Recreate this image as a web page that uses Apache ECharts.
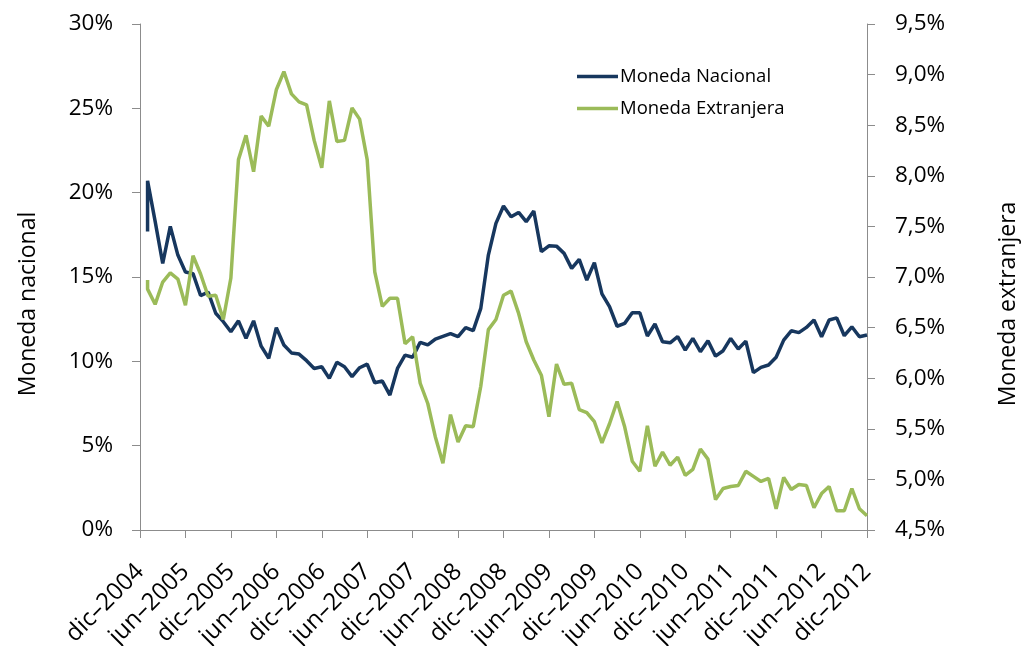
<!DOCTYPE html>
<html style="height: 100%">
<head>
    <meta charset="utf-8">
    <script src="https://cdn.jsdelivr.net/npm/echarts@6/dist/echarts.min.js"></script>
</head>
<body style="height: 100%;margin: 0;background: #fff">
<div id="chart" style="width: 1021px;height: 646px;"></div>
<script type="text/javascript">
// etiquetas del eje x, una cada 6 meses (dic-2004 = mes 0)
var xLabels = ['dic–2004', 'jun–2005', 'dic–2005', 'jun–2006', 'dic–2006', 'jun–2007', 'dic–2007',
    'jun–2008', 'dic–2008', 'jun–2009', 'dic–2009', 'jun–2010', 'dic–2010', 'jun–2011', 'dic–2011',
    'jun–2012', 'dic–2012'];

// mes de cada dato (el primero aparece dos veces)
var meses = [1, 1, 2, 3, 4, 5, 6, 7, 8, 9, 10, 11, 12, 13, 14, 15, 16, 17, 18, 19, 20,
    21, 22, 23, 24, 25, 26, 27, 28, 29, 30, 31, 32, 33, 34, 35, 36, 37, 38, 39, 40,
    41, 42, 43, 44, 45, 46, 47, 48, 49, 50, 51, 52, 53, 54, 55, 56, 57, 58, 59, 60,
    61, 62, 63, 64, 65, 66, 67, 68, 69, 70, 71, 72, 73, 74, 75, 76, 77, 78, 79, 80,
    81, 82, 83, 84, 85, 86, 87, 88, 89, 90, 91, 92, 93, 94, 95, 96];

// Moneda Nacional (%), eje izquierdo
var nacional = [17.7, 20.7, 18.3, 15.8, 18.0, 16.3, 15.3, 15.2, 13.9, 14.1, 12.85, 12.35, 11.75, 12.4, 11.36, 12.4,
    10.9, 10.18, 12.0, 10.97, 10.5, 10.43, 10.04, 9.58, 9.68, 8.99, 9.94, 9.68, 9.09, 9.62, 9.83,
    8.73, 8.83, 8.0, 9.58, 10.37, 10.24, 11.13, 10.97, 11.32, 11.48, 11.64, 11.46, 12.0, 11.82, 13.14,
    16.3, 18.18, 19.21, 18.57, 18.83, 18.28, 18.91, 16.5, 16.85, 16.83, 16.4, 15.51, 16.05, 14.82, 15.85,
    14.0, 13.24, 12.08, 12.25, 12.88, 12.88, 11.5, 12.21, 11.16, 11.1, 11.46, 10.67, 11.36, 10.57, 11.22,
    10.31, 10.63, 11.36, 10.73, 11.2, 9.33, 9.64, 9.78, 10.24, 11.26, 11.81, 11.7, 12.01, 12.45, 11.46,
    12.45, 12.58, 11.52, 12.05, 11.46, 11.56];

// Moneda Extranjera (%), eje derecho
var extranjera = [6.97, 6.88, 6.73, 6.95, 7.04, 6.98, 6.72, 7.21, 7.03, 6.81, 6.82, 6.58, 6.99, 8.16, 8.40, 8.04,
    8.59, 8.49, 8.85, 9.03, 8.81, 8.73, 8.70, 8.35, 8.08, 8.74, 8.34, 8.35, 8.67, 8.56, 8.16,
    7.05, 6.71, 6.79, 6.79, 6.34, 6.41, 5.95, 5.75, 5.42, 5.16, 5.64, 5.37, 5.53, 5.52, 5.92,
    6.48, 6.58, 6.82, 6.86, 6.64, 6.36, 6.18, 6.03, 5.62, 6.14, 5.94, 5.95, 5.69, 5.66, 5.57,
    5.36, 5.55, 5.77, 5.52, 5.18, 5.08, 5.53, 5.13, 5.27, 5.14, 5.22, 5.04, 5.10, 5.30, 5.20,
    4.80, 4.91, 4.93, 4.94, 5.08, 5.03, 4.98, 5.01, 4.71, 5.02, 4.90, 4.95, 4.94, 4.72, 4.86,
    4.93, 4.69, 4.69, 4.91, 4.71, 4.64];

var fuente = 'Open Sans';
var ejeColor = '#8c8c8c';

function pares(xs, ys) {
    return ys.map(function (v, i) { return [xs[i], v]; });
}

var myChart = echarts.init(document.getElementById('chart'));
var option = {
    animation: false,
    textStyle: {fontFamily: fuente, color: '#000'},
    grid: {left: 140, right: 154, top: 24, bottom: 116, outerBoundsMode: 'none', containLabel: false},
    legend: {
        orient: 'vertical',
        left: 577,
        top: 67,
        padding: 0,
        icon: 'rect',
        itemWidth: 41,
        itemHeight: 3.5,
        itemGap: 13,
        textStyle: {fontFamily: fuente, fontSize: 18.5, color: '#000', padding: [0, 0, 0, -3]},
        data: ['Moneda Nacional', 'Moneda Extranjera']
    },
    xAxis: {
        type: 'value',
        min: 0,
        max: 96,
        interval: 6,
        splitLine: {show: false},
        axisLine: {show: true, onZero: false, lineStyle: {color: ejeColor, width: 1}},
        axisTick: {show: true, length: 8, lineStyle: {color: ejeColor}},
        axisLabel: {
            rotate: 45,
            fontSize: 24,
            color: '#000',
            margin: 38,
            formatter: function (v) { return xLabels[v / 6]; }
        }
    },
    yAxis: [{
        type: 'value',
        name: 'Moneda nacional',
        nameLocation: 'middle',
        nameGap: 100,
        nameTextStyle: {fontSize: 23, color: '#000', padding: [0, 54, 0, 0]},
        min: 0,
        max: 30,
        interval: 5,
        splitLine: {show: false},
        axisLine: {show: true, lineStyle: {color: ejeColor}},
        axisTick: {show: true, length: 8, lineStyle: {color: ejeColor}},
        axisLabel: {fontSize: 22.5, color: '#000', margin: 27, formatter: function (v) { return v + '%'; }}
    }, {
        type: 'value',
        name: 'Moneda extranjera',
        nameLocation: 'middle',
        nameGap: 130,
        nameRotate: 90,
        nameTextStyle: {fontSize: 23, color: '#000', padding: [0, 54, 0, 0]},
        position: 'right',
        min: 4.5,
        max: 9.5,
        interval: 0.5,
        splitLine: {show: false},
        axisLine: {show: true, lineStyle: {color: ejeColor}},
        axisTick: {show: true, length: 8, lineStyle: {color: ejeColor}},
        axisLabel: {
            fontSize: 22.5, color: '#000', margin: 28,
            formatter: function (v) { return v.toFixed(1).replace('.', ',') + '%'; }
        }
    }],
    series: [{
        name: 'Moneda Nacional',
        type: 'line',
        yAxisIndex: 0,
        symbol: 'none',
        color: '#17375E',
        lineStyle: {width: 3.5, color: '#17375E'},
        data: pares(meses, nacional)
    }, {
        name: 'Moneda Extranjera',
        type: 'line',
        yAxisIndex: 1,
        symbol: 'none',
        color: '#9BBB59',
        lineStyle: {width: 3.5, color: '#9BBB59'},
        data: pares(meses, extranjera)
    }]
};
myChart.setOption(option);
</script>
</body>
</html>
